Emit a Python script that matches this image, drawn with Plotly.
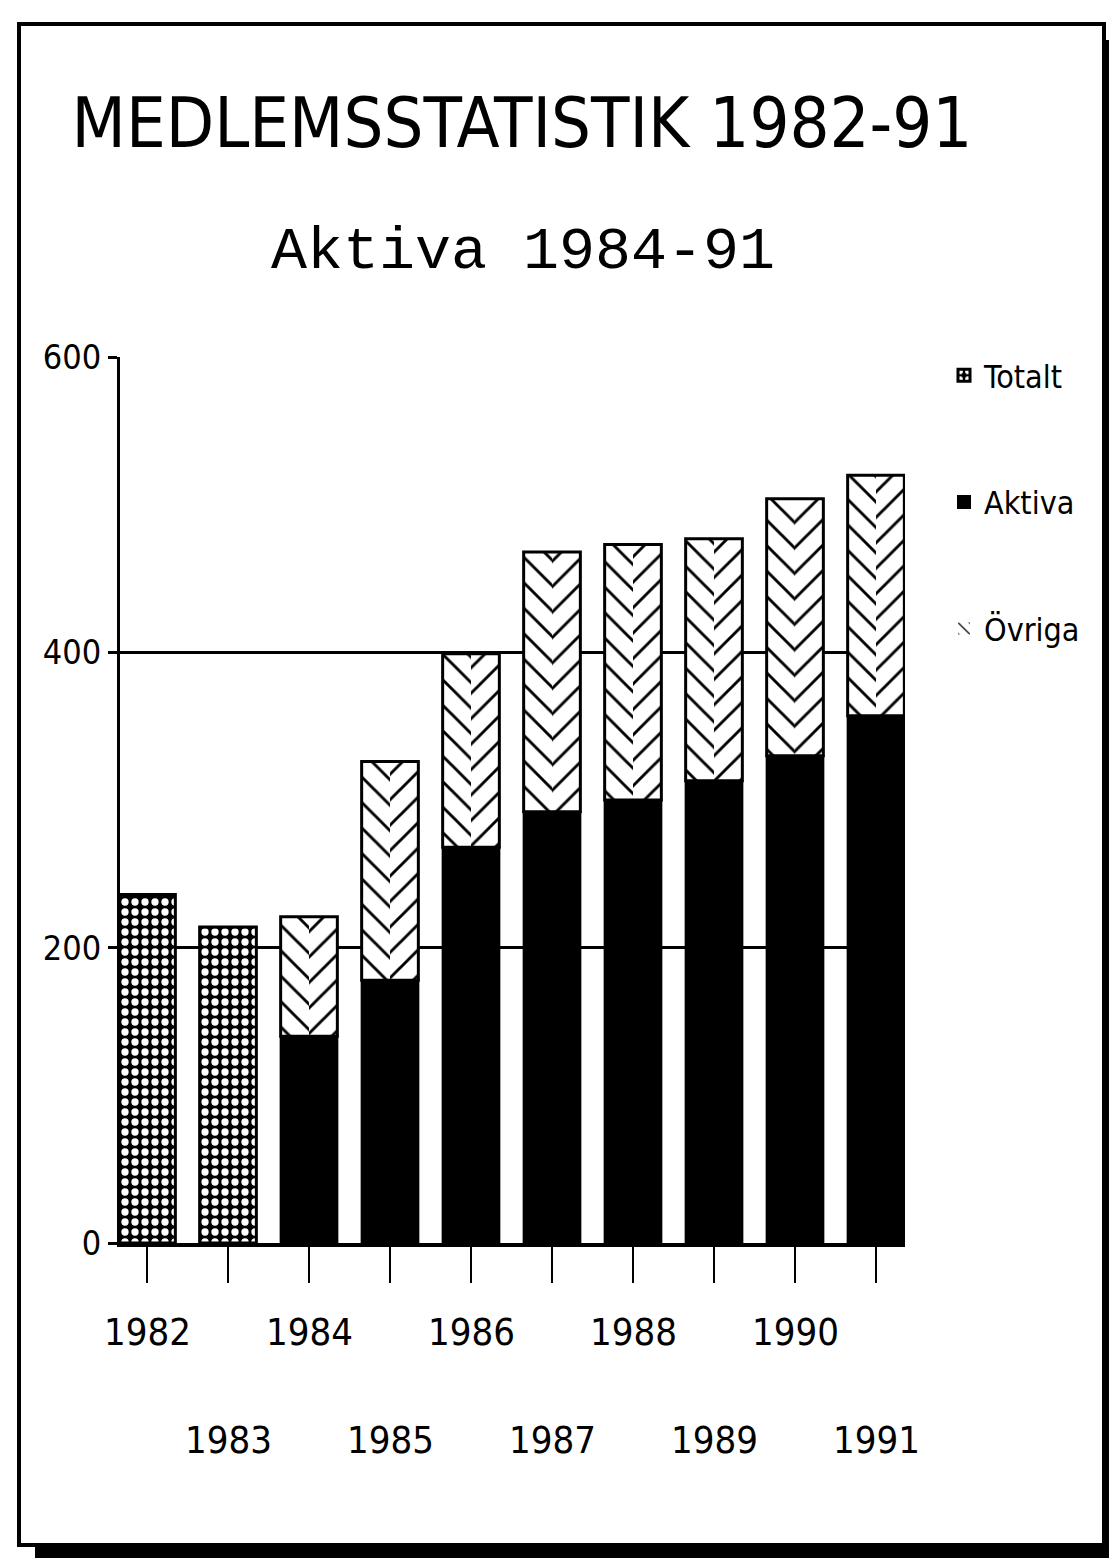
import plotly.graph_objects as go

# ---- data ----
years_totalt = [1982, 1983]
totalt = [236, 214]

years_split = [1984, 1985, 1986, 1987, 1988, 1989, 1990, 1991]
aktiva = [140, 178, 268, 292, 300, 313, 330, 357]
ovriga = [81, 148, 131, 176, 173, 164, 174, 163]

all_years = years_totalt + years_split
y_ticks = [0, 200, 400, 600]
y_ticktext = ["0", "200", "400", "600"]

title_text = "MEDLEMSSTATISTIK 1982-91"
subtitle_text = "Aktiva 1984-91"

NARROW = "DejaVu Sans Condensed, Liberation Sans Narrow, Roboto Condensed, sans-serif"
MONO = "Liberation Mono, DejaVu Sans Mono, monospace"

# ---- geometry (page pixels; the page body adds an 8px margin) ----
OFF = 8
W, H = 1117 - OFF, 1558 - OFF
PL, PR, PT, PB = 120, 905, 357, 1243          # plot area in page pixels
ML, MT = PL - OFF, PT - OFF
MR = W - ML - (PR - PL)
MB = H - MT - (PB - PT)
plot_w = PR - PL
plot_h = PB - PT
px_per_year = 81.0
x0 = 1982 - 27 / px_per_year
x1 = x0 + plot_w / px_per_year
BAR_W = 0.70


def px(xp):
    return (xp - PL) / plot_w


def py(yp):
    return (PB - yp) / plot_h


fig = go.Figure()

fig.add_trace(go.Bar(
    x=years_totalt, y=totalt, width=BAR_W, name="Totalt",
    legendgroup="t",
    marker=dict(color="black", line=dict(color="black", width=3),
                pattern=dict(shape=".", bgcolor="black", fgcolor="white",
                             size=10, solidity=0.42, fillmode="replace")),
))

fig.add_trace(go.Bar(
    x=years_split, y=aktiva, width=BAR_W, name="Aktiva",
    legendgroup="a",
    marker=dict(color="black", line=dict(color="black", width=2)),
))

# Övriga: chevrons made of a "\" half and a "/" half
fig.add_trace(go.Bar(
    x=years_split, y=ovriga, base=aktiva, width=BAR_W / 2, offset=-BAR_W / 2,
    name="Övriga", legendgroup="o",
    marker=dict(color="black", line=dict(width=0),
                pattern=dict(shape="\\", bgcolor="white", fgcolor="black",
                             size=18, solidity=0.16, fillmode="replace")),
))
fig.add_trace(go.Bar(
    x=years_split, y=ovriga, base=aktiva, width=BAR_W / 2, offset=0,
    name="Övriga", legendgroup="o", showlegend=False,
    marker=dict(color="black", line=dict(width=0),
                pattern=dict(shape="/", bgcolor="white", fgcolor="black",
                             size=18, solidity=0.16, fillmode="replace")),
))
fig.add_trace(go.Bar(
    x=years_split, y=ovriga, base=aktiva, width=BAR_W,
    name="Övriga", legendgroup="o", showlegend=False, hoverinfo="skip",
    marker=dict(color="rgba(0,0,0,0)", line=dict(color="black", width=3)),
))

annotations = []
for i, yr in enumerate(all_years):
    annotations.append(dict(
        x=yr, xref="x", y=py(1332) if i % 2 == 0 else py(1440), yref="paper",
        text=str(yr), showarrow=False, yanchor="middle", xanchor="center",
        font=dict(family=NARROW, size=38, color="black"),
    ))
annotations.append(dict(
    x=px(523), xref="paper", y=py(252), yref="paper", text=subtitle_text,
    showarrow=False, xanchor="center", yanchor="middle",
    font=dict(family=MONO, size=60, color="black"),
))

shapes = [
    # outer frame
    dict(type="rect", xref="paper", yref="paper",
         x0=px(19), x1=px(1104), y0=py(1545), y1=py(24),
         line=dict(color="black", width=4), fillcolor="rgba(0,0,0,0)", layer="below"),
    # shadow bottom / right
    dict(type="rect", xref="paper", yref="paper",
         x0=px(35), x1=px(1117), y0=py(1558), y1=py(1547),
         line=dict(width=0), fillcolor="black", layer="below"),
    dict(type="rect", xref="paper", yref="paper",
         x0=px(1106), x1=px(1117), y0=py(1558), y1=py(40),
         line=dict(width=0), fillcolor="black", layer="below"),
]

fig.update_layout(
    width=W, height=H,
    margin=dict(l=ML, r=MR, t=MT, b=MB, autoexpand=False),
    paper_bgcolor="white", plot_bgcolor="white",
    barmode="overlay",
    title=dict(text=title_text, x=(522 - OFF) / W, xanchor="center",
               y=1 - (122 - OFF) / H, yanchor="middle", yref="container",
               font=dict(family=NARROW, size=70, color="black")),
    showlegend=True,
    legend=dict(x=px(944), y=py(348), xanchor="left", yanchor="top",
                font=dict(family=NARROW, size=32, color="black"),
                tracegroupgap=82, bgcolor="rgba(0,0,0,0)", itemwidth=30),
    annotations=annotations,
    shapes=shapes,
    xaxis=dict(range=[x0, x1], tickvals=all_years, showticklabels=False,
               ticks="outside", ticklen=36, tickwidth=2, tickcolor="black",
               showline=True, linewidth=4, linecolor="black",
               showgrid=False, zeroline=False, fixedrange=True),
    yaxis=dict(range=[0, 600], tickvals=y_ticks, ticktext=y_ticktext,
               ticks="outside", ticklen=9, tickwidth=3, tickcolor="black",
               showline=True, linewidth=3, linecolor="black",
               showgrid=True, gridcolor="black", gridwidth=3,
               zeroline=False, fixedrange=True,
               tickfont=dict(family=NARROW, size=34, color="black")),
)

fig.write_html("out.html")
